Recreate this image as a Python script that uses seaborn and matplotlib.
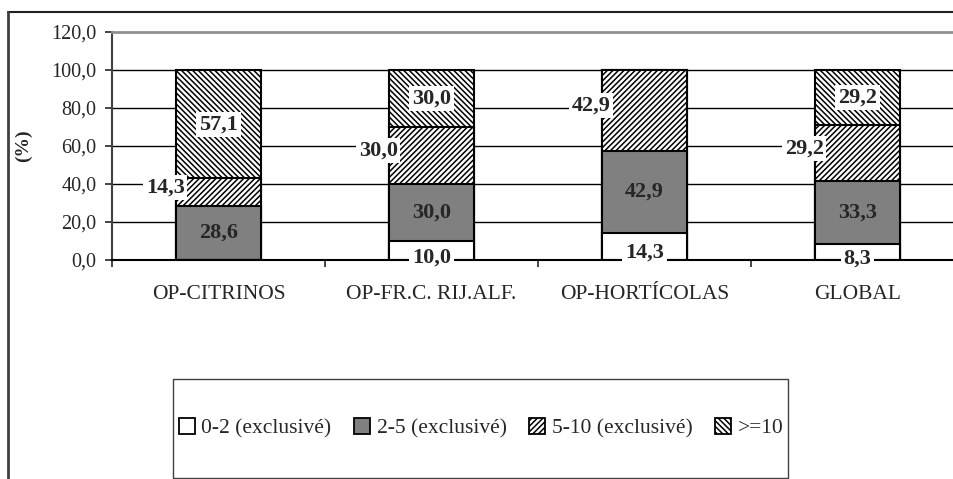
import pandas as pd
import matplotlib.pyplot as plt
import seaborn as sns
from matplotlib.patches import Patch, Rectangle
from matplotlib.lines import Line2D

sns.set_style('white')
plt.rcParams['font.family'] = ['Liberation Serif', 'DejaVu Serif']
plt.rcParams['hatch.linewidth'] = 1.1

categories = ['OP-CITRINOS', 'OP-FR.C. RIJ.ALF.', 'OP-HORTÍCOLAS', 'GLOBAL']
series_names = ['0-2 (exclusivé)', '2-5 (exclusivé)', '5-10 (exclusivé)', '>=10']
v_0_2 = [0.0, 10.0, 14.3, 8.3]
v_2_5 = [28.6, 30.0, 42.9, 33.3]
v_5_10 = [14.3, 30.0, 42.9, 29.2]
v_10 = [57.1, 30.0, 0.0, 29.2]
ytick_vals = [0, 20, 40, 60, 80, 100, 120]
ytick_labels = ['0,0', '20,0', '40,0', '60,0', '80,0', '100,0', '120,0']

series = [v_0_2, v_2_5, v_5_10, v_10]
faces = ['white', '#808080', 'white', 'white']
hatches = [None, None, '//////', '\\' * 6]

df = pd.DataFrame({'cat': categories})
bottoms = []
run = [0.0] * len(categories)
for i, vals in enumerate(series):
    bottoms.append(list(run))
    run = [a + b for a, b in zip(run, vals)]
    df['top%d' % i] = run

fig = plt.figure(figsize=(9.54, 4.79), dpi=100)
ax = fig.add_axes([112 / 954, 1 - 260 / 479, 852 / 954, 228 / 479])

# stacked bars: draw cumulative tops from highest layer down
for i in reversed(range(4)):
    sns.barplot(data=df, x='cat', y='top%d' % i, order=categories, color=faces[i],
                saturation=1, width=0.4, edgecolor='black', linewidth=1.5, ax=ax)
    if hatches[i]:
        for p in ax.containers[-1]:
            p.set_hatch(hatches[i])

ax.set_xlim(-0.5, 3.5)
ax.set_ylim(0, 120)
ax.set_yticks(ytick_vals, ytick_labels, fontsize=14.5)
ax.set_axisbelow(True)
ax.yaxis.grid(True, color='black', lw=1)
ax.get_ygridlines()[-1].set_visible(False)
ax.tick_params(axis='y', direction='out', length=5, width=1.2, pad=6, left=True)

ax.set_xticks([-0.5, 0.5, 1.5, 2.5, 3.5], [''] * 5)
ax.set_xticks(range(4), categories, minor=True, fontsize=15.5)
ax.tick_params(axis='x', which='major', direction='out', length=5, width=1.2, bottom=True)
ax.tick_params(axis='x', which='minor', length=0, pad=18)

ax.set_xlabel('')
ax.set_ylabel('')
fig.text(23 / 954, 1 - 146 / 479, '(%)', rotation=90, ha='center', va='center',
         fontsize=14, fontweight='bold')

ax.spines['right'].set_visible(False)
ax.spines['top'].set_color('#909090')
ax.spines['top'].set_linewidth(2)
ax.spines['left'].set_color('#404040')
ax.spines['left'].set_linewidth(1.5)
ax.spines['bottom'].set_color('black')
ax.spines['bottom'].set_linewidth(1.5)

# value labels
for i, vals in enumerate(series):
    for j, v in enumerate(vals):
        if v <= 0:
            continue
        y = bottoms[i][j] + v / 2
        x = j
        if i == 0:
            y -= 3.5
        if i == 2:
            x -= 0.25
            y += 2.5
        box = None if i == 1 else dict(facecolor='white', edgecolor='none', pad=2)
        ax.text(x, y, f'{v:.1f}'.replace('.', ','), ha='center', va='center',
                fontsize=16, fontweight='bold', bbox=box, zorder=5)

# outer chart frame (cropped)
fig.add_artist(Line2D([8 / 954, 1], [1 - 12 / 479] * 2, color='#202020', lw=1.5))
fig.add_artist(Line2D([8 / 954] * 2, [0, 1 - 12 / 479], color='#404040', lw=2))

# legend box
fig.add_artist(Rectangle((173 / 954, 1 / 479), 615 / 954, 99 / 479, fill=False,
                         edgecolor='#404040', lw=1))
handles = [Patch(facecolor=faces[i], edgecolor='black', hatch=hatches[i], lw=1.3)
           for i in range(4)]
fig.legend(handles, series_names, loc='center', bbox_to_anchor=(481 / 954, 1 - 428 / 479),
           ncol=4, frameon=False, fontsize=15.5, handlelength=0.75, handleheight=0.75,
           handletextpad=0.3, columnspacing=1.05)

fig.savefig('out.png', dpi=100)
